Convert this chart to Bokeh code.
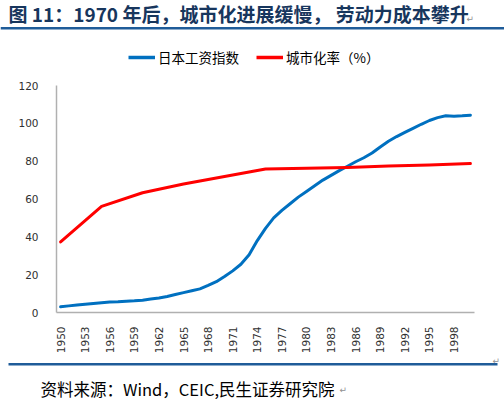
from bokeh.plotting import figure
from bokeh.layouts import column
from bokeh.models import (Label, BoxAnnotation, Legend, LegendItem, FixedTicker,
                          Range1d, ColumnDataSource)
from bokeh.embed import file_html
from bokeh.resources import INLINE
import math

# ---- data ----
wage_years = list(range(1950, 2001))
wage_index = [3.0, 3.5, 4.0, 4.4, 4.8, 5.2, 5.5, 5.7, 6.0, 6.2,
              6.5, 7.1, 7.7, 8.5, 9.5, 10.5, 11.5, 12.5, 14.3, 16.3,
              19.0, 22.0, 25.5, 30.5, 38.0, 44.5, 50.0, 54.0, 57.5, 61.0,
              64.0, 67.0, 70.0, 72.5, 75.0, 77.3, 79.7, 81.8, 84.3, 87.5,
              90.5, 93.0, 95.2, 97.3, 99.5, 101.5, 103.0, 104.0, 103.8, 104.0,
              104.3]
urban_years = [1950, 1955, 1960, 1965, 1970, 1975, 1980, 1985, 1990, 1995, 2000]
urban_rate = [37.3, 56.1, 63.3, 67.9, 71.9, 75.9, 76.2, 76.7, 77.4, 78.0, 78.8]
tick_years = list(range(1950, 1999, 3))
y_ticks = [0, 20, 40, 60, 80, 100, 120]

title_text = "图 11：1970 年后，城市化进展缓慢， 劳动力成本攀升"
source_text = "资料来源：Wind，CEIC,民生证券研究院"
series_names = ["日本工资指数", "城市化率（%）"]
series_colors = ["#0070C0", "#FF0000"]

CJK = "Noto Sans CJK SC"
RULE = "#1F5C99"
W = 504
NAN = float("nan")


def blank(height):
    f = figure(width=W, height=height, output_backend="svg", toolbar_location=None,
               x_range=Range1d(0, W), y_range=Range1d(0, height),
               x_axis_type=None, y_axis_type=None,
               min_border_left=0, min_border_right=0, min_border_top=0,
               min_border_bottom=0, frame_align=False)
    f.outline_line_color = None
    f.grid.grid_line_color = None
    return f


# ---- header: title, rule, legend ----
hdr = blank(75)
hdr.add_layout(Label(x=8, y=62, text=title_text, text_font=CJK,
                     text_font_size="19px", text_font_style="bold",
                     text_color="#17365D", text_baseline="middle"))
hdr.add_layout(Label(x=466, y=57, text="↵", text_font="DejaVu Sans",
                     text_font_size="9px", text_color="#909090",
                     text_baseline="middle"))
hdr.add_layout(BoxAnnotation(left=0, right=W, bottom=46, top=48.5,
                             fill_color=RULE, fill_alpha=1, line_color=None))
leg_r = [hdr.line(x=[NAN], y=[NAN], line_color=c, line_width=3.5) for c in series_colors]
legend = Legend(items=[LegendItem(label=n, renderers=[r])
                       for n, r in zip(series_names, leg_r)],
                orientation="horizontal", location=(128, 8),
                label_text_font=CJK, label_text_font_size="13.5px",
                label_text_color="#000000", glyph_width=27, glyph_height=16,
                label_standoff=3, spacing=17, padding=0, margin=0,
                border_line_color=None, background_fill_alpha=0)
hdr.add_layout(legend, "center")

# ---- main chart ----
p = figure(width=W, height=281, output_backend="svg", toolbar_location=None,
           x_range=Range1d(1949.5, 2000.5), y_range=Range1d(0, 120),
           min_border_left=56, min_border_right=30, min_border_top=10,
           min_border_bottom=42, frame_align=False)
p.outline_line_color = None
p.grid.grid_line_color = None

wage_src = ColumnDataSource(dict(x=wage_years, y=wage_index))
urban_src = ColumnDataSource(dict(x=urban_years, y=urban_rate))
p.line("x", "y", source=wage_src, line_color=series_colors[0], line_width=3,
       line_join="round", line_cap="round")
p.line("x", "y", source=urban_src, line_color=series_colors[1], line_width=3,
       line_join="round", line_cap="round")

p.xaxis.ticker = FixedTicker(ticks=tick_years)
p.xaxis.major_label_orientation = math.pi / 2
p.xaxis.major_label_standoff = 8
p.yaxis.ticker = FixedTicker(ticks=y_ticks)
p.yaxis.major_label_standoff = 12
for ax in (p.xaxis, p.yaxis):
    ax.axis_line_color = "#B0B0B0"
    ax.axis_line_width = 1.5
    ax.major_tick_line_color = None
    ax.minor_tick_line_color = None
    ax.major_label_text_font = "DejaVu Sans"
    ax.major_label_text_font_size = "10.5px"
    ax.major_label_text_color = "#303030"

# ---- footer: rule, source ----
ftr = blank(44)
ftr.add_layout(BoxAnnotation(left=8, right=497, bottom=35, top=37.5,
                             fill_color=RULE, fill_alpha=1, line_color=None))
ftr.add_layout(Label(x=492, y=40, text="↵", text_font="DejaVu Sans",
                     text_font_size="9px", text_color="#909090",
                     text_baseline="middle"))
ftr.add_layout(Label(x=40, y=12, text=source_text, text_font=CJK,
                     text_font_size="16.5px", text_color="#000000",
                     text_baseline="middle"))
ftr.add_layout(Label(x=339, y=11, text="↵", text_font="DejaVu Sans",
                     text_font_size="9px", text_color="#909090",
                     text_baseline="middle"))

layout = column(hdr, p, ftr, spacing=0)
open("out.html", "w").write(file_html(layout, INLINE))
